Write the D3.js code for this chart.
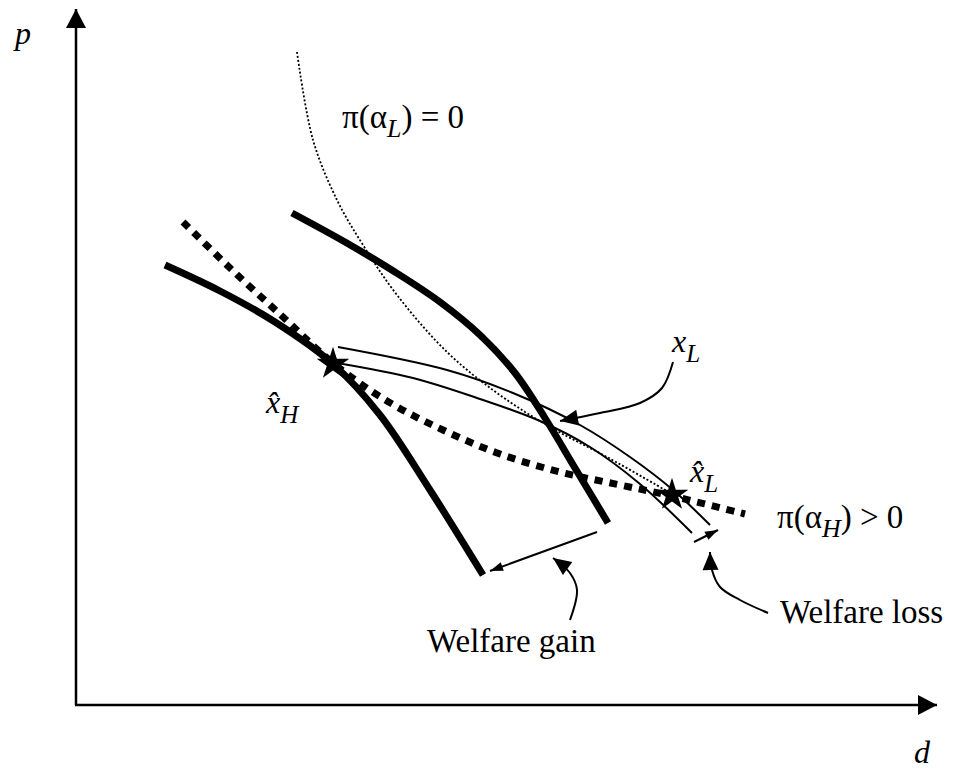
<!DOCTYPE html>
<html>
<head>
<meta charset="utf-8">
<script src="https://cdn.jsdelivr.net/npm/d3@7"></script>
<style>
  body { margin: 0; background: #fff; }
  text { font-family: "Liberation Serif", "Times New Roman", serif; fill: #000; }
</style>
</head>
<body>
<script>
// curves, in (d, p) units
const highCurve   = [[8.9,44.0],[14.4,41.4],[19.9,38.3],[25.7,34.1],[30.4,29.0],[35.4,21.5],[40.7,13.0]];
const lowCurve    = [[21.6,49.2],[26.9,46.3],[31.9,43.3],[36.4,40.3],[40.4,37.0],[43.9,33.2],[46.9,28.7],[49.9,23.7],[53.2,18.2]];
const profitH     = [[10.7,48.3],[15.4,43.7],[20.7,38.8],[25.7,34.2],[31.1,30.4],[36.7,27.5],[42.4,25.1],[48.4,23.3],[54.4,22.0],[59.6,20.9],[66.9,19.1]];
const profitL     = [[22.1,65.3],[23.7,56.5],[26.1,50.5],[28.7,46.0],[32.1,41.0],[37.1,35.3],[42.1,31.2],[47.4,27.8],[53.1,24.8],[59.6,21.1]];
const xLUpper     = [[26.2,35.8],[37.1,33.5],[43.7,31.2],[50.4,28.0],[55.4,24.8],[59.7,21.5],[63.4,18.0]];
const xLLower     = [[26.1,34.2],[33.7,32.7],[40.4,30.6],[46.4,28.4],[51.4,25.8],[56.4,22.1],[61.6,17.2]];
const stars       = [[25.7,34.1],[59.6,21.0]];

// annotation arrows
const arrowXL       = [[59.7,34.3],[58.6,31.7],[56.4,30.2],[52.4,29.2],[48.4,28.4]];
const arrowGainLine = [[52.1,17.3],[41.4,13.4]];
const arrowGainText = [[49.4,8.5],[50.1,11.5],[49.4,13.2],[47.7,14.7]];
const arrowLossLine = [[61.8,16.3],[64.2,17.5]];
const arrowLossText = [[69.2,9.2],[66.4,10.5],[64.4,11.8],[63.6,13.5],[63.4,15.3]];

const width = 960, height = 771;
const svg = d3.select("body").append("svg")
    .attr("width", width)
    .attr("height", height);

const x = d3.scaleLinear().domain([0, 86]).range([76, 936]);
const y = d3.scaleLinear().domain([0, 69.6]).range([705, 9]);

const line = d3.line()
    .x(d => x(d[0]))
    .y(d => y(d[1]))
    .curve(d3.curveCatmullRom.alpha(0.5));

// arrow heads
const defs = svg.append("defs");
function head(id, len, half) {
  defs.append("marker")
      .attr("id", id)
      .attr("markerUnits", "userSpaceOnUse")
      .attr("viewBox", `${-len-1} ${-half-1} ${len+2} ${2*half+2}`)
      .attr("markerWidth", len + 2)
      .attr("markerHeight", 2 * half + 2)
      .attr("refX", 0).attr("refY", 0)
      .attr("orient", "auto")
    .append("path")
      .attr("d", `M0,0L${-len},${-half}L${-len},${half}Z`)
      .attr("fill", "#000");
}
head("axisHead", 19, 10);
head("bigHead", 18, 8);
head("smallHead", 13, 4.5);

// axes
svg.append("line")
    .attr("x1", x(0)).attr("y1", y(0))
    .attr("x2", x(0)).attr("y2", y(69.6))
    .attr("stroke", "#000").attr("stroke-width", 2.5)
    .attr("marker-end", "url(#axisHead)");
svg.append("line")
    .attr("x1", x(0) - 1).attr("y1", y(0))
    .attr("x2", x(86.1)).attr("y2", y(0))
    .attr("stroke", "#000").attr("stroke-width", 2.5)
    .attr("marker-end", "url(#axisHead)");

// curves
svg.append("path").attr("d", line(profitL))
    .attr("fill", "none").attr("stroke", "#000")
    .attr("stroke-width", 1.8).attr("stroke-dasharray", "2,2");
svg.append("path").attr("d", line(xLUpper))
    .attr("fill", "none").attr("stroke", "#000").attr("stroke-width", 2);
svg.append("path").attr("d", line(xLLower))
    .attr("fill", "none").attr("stroke", "#000").attr("stroke-width", 2);
svg.append("path").attr("d", line(profitH))
    .attr("fill", "none").attr("stroke", "#000")
    .attr("stroke-width", 7).attr("stroke-dasharray", "8,7");
svg.append("path").attr("d", line(highCurve))
    .attr("fill", "none").attr("stroke", "#000").attr("stroke-width", 7);
svg.append("path").attr("d", line(lowCurve))
    .attr("fill", "none").attr("stroke", "#000").attr("stroke-width", 7);

svg.selectAll(".star")
  .data(stars)
  .enter().append("path")
    .attr("class", "star")
    .attr("transform", d => `translate(${x(d[0])},${y(d[1])})`)
    .attr("d", d3.symbol().type(d3.symbolStar).size(330))
    .attr("fill", "#000");

// annotation arrows
[[arrowXL, "bigHead"], [arrowGainLine, "smallHead"], [arrowGainText, "bigHead"],
 [arrowLossLine, "smallHead"], [arrowLossText, "bigHead"]].forEach(([pts, m]) => {
  svg.append("path").attr("d", line(pts))
      .attr("fill", "none").attr("stroke", "#000").attr("stroke-width", 2)
      .attr("marker-end", `url(#${m})`);
});

// labels
const fs = 33;
svg.append("text").attr("x", 15).attr("y", 44)
    .attr("font-size", 32).attr("font-style", "italic").text("p");
svg.append("text").attr("x", 914).attr("y", 763)
    .attr("font-size", 32).attr("font-style", "italic").text("d");

function piLabel(px, py, sub, rest) {
  const t = svg.append("text").attr("x", px).attr("y", py).attr("font-size", fs);
  t.append("tspan").text("π(α");
  t.append("tspan").attr("font-size", 26).attr("font-style", "italic").attr("dy", 9).text(sub);
  t.append("tspan").attr("dy", -9).text(rest);
}
piLabel(342, 128, "L", ") = 0");
piLabel(777, 528, "H", ") > 0");

function xLabel(px, py, sub, hat) {
  const t = svg.append("text").attr("x", px).attr("y", py).attr("font-size", 32);
  t.append("tspan").attr("font-style", "italic").text(hat ? "x\u0302" : "x");
  t.append("tspan").attr("font-size", 25).attr("font-style", "italic").attr("dy", 10).text(sub);
}
xLabel(672, 352, "L", false);
xLabel(266, 413, "H", true);
xLabel(690, 482, "L", true);

svg.append("text").attr("x", 427).attr("y", 652).attr("font-size", fs).text("Welfare gain");
svg.append("text").attr("x", 780).attr("y", 623).attr("font-size", fs).text("Welfare loss");
</script>
</body>
</html>
